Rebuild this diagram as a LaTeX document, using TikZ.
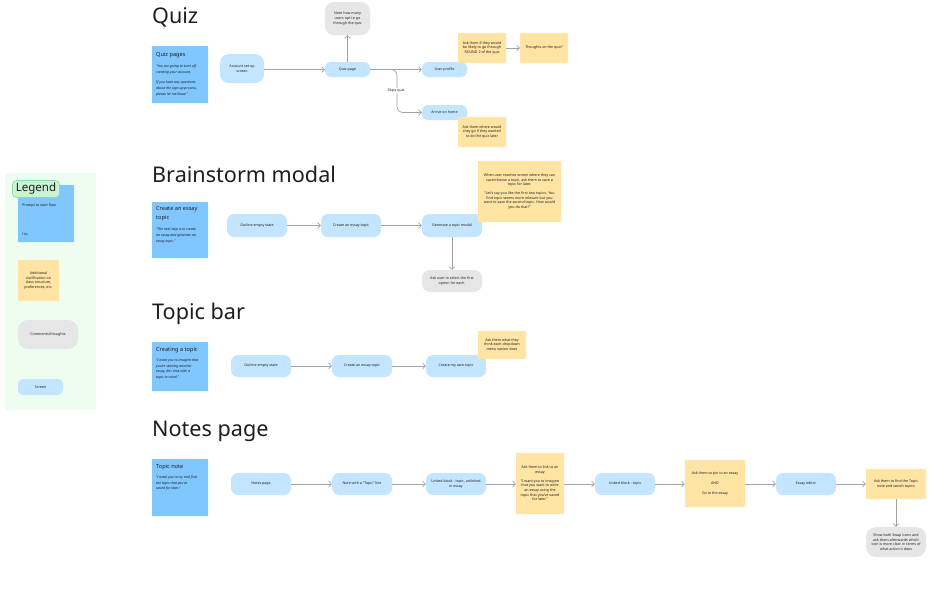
\documentclass[tikz,border=0pt]{standalone}
\usepackage{fontspec}
\setmainfont{Noto Sans}
\usetikzlibrary{arrows.meta}
\definecolor{blu}{HTML}{80C6FF}
\definecolor{scr}{HTML}{C4E5FF}
\definecolor{yel}{HTML}{FFE4A3}
\definecolor{gry}{HTML}{E6E6E6}
\definecolor{arr}{HTML}{A3A3A3}
\definecolor{lgbg}{HTML}{EEFDF0}
\definecolor{tagfill}{HTML}{CCF2D4}
\definecolor{tagdraw}{HTML}{8FD9A3}
\definecolor{ink}{HTML}{1E1E1E}
\tikzset{
  tiny/.style={font=\fontsize{3.6}{4.7}\selectfont, text=ink},
  screenbox/.style={tiny, fill=scr, rounded corners=7pt, align=center, inner sep=1pt},
  graybox/.style={tiny, fill=gry, rounded corners=8pt, align=center, inner sep=1pt},
  notebox/.style={tiny, fill=yel, rounded corners=0.8pt, align=center, inner sep=1pt},
  promptbox/.style={fill=blu, rounded corners=0.5pt, inner sep=0pt},
  phead/.style={text=ink, align=left, inner sep=0pt, anchor=north west, font=\fontsize{5.6}{8.6}\selectfont},
  pbody/.style={text=ink, align=left, inner sep=0pt, anchor=north west, font=\fontsize{3.5}{5.7}\selectfont\itshape},
  ttl/.style={font=\fontsize{21.6}{26}\selectfont, text=ink, anchor=base west, inner sep=0pt},
  flow/.style={draw=arr, line width=0.7pt, -{Straight Barb[length=2.8pt,width=6pt]}},
}
\begin{document}
\begin{tikzpicture}[x=1pt,y=-1pt]
\useasboundingbox (0,0) rectangle (936,611);
\fill[white] (0,0) rectangle (936,611);

% ---------------- Legend ----------------
\node[fill=lgbg, rounded corners=3pt, minimum width=91pt, minimum height=237pt, inner sep=0pt] (lgpanel) at (50.5,291.5) {};
\node[promptbox, minimum width=56pt, minimum height=57pt] (lgblue) at (46,213.5) {};
\node[phead, font=\fontsize{3.6}{4.6}\selectfont\bfseries] (lgbluet) at (22,204) {Prompt to start flow};
\node[phead, font=\fontsize{3}{4}\selectfont] (lgbluet2) at (22,233) {Title};
\node[fill=tagfill, draw=tagdraw, line width=0.6pt, rounded corners=4pt, minimum width=47pt, minimum height=17pt, inner sep=0pt, font=\fontsize{11.5}{13}\selectfont, text=ink] (lgtag) at (36,189) {Legend};
\node[notebox, minimum width=41pt, minimum height=41pt] (lgyel) at (38.5,280.5) {Additional\\clarification on\\class structure,\\preferences, etc.};
\node[graybox, minimum width=60pt, minimum height=29pt, rounded corners=10pt] (lggray) at (48,334.5) {Comments/thoughts};
\node[screenbox, minimum width=45pt, minimum height=16pt, rounded corners=5pt] (lgscr) at (40.5,387) {Screen};

% ---------------- Quiz ----------------
\node[ttl] (tquiz) at (152,23) {Quiz};
\node[promptbox, minimum width=56pt, minimum height=57pt] (qprompt) at (180,74.5) {};
\node[phead] (qhead) at (156,52) {Quiz pages};
\node[pbody] (qbody) at (156,64.5) {“You are going to start off\\creating your account.\\[5pt]If you have any questions\\about the sign up process,\\please let me know.”};
\node[screenbox, minimum width=44pt, minimum height=29pt, rounded corners=9pt] (acc) at (242,68.5) {Account set up\\screen};
\node[screenbox, minimum width=45pt, minimum height=15pt, rounded corners=6pt] (qpage) at (347.5,69.5) {Quiz page};
\node[graybox, minimum width=45pt, minimum height=33pt, rounded corners=9pt] (qnote) at (347.5,18.5) {Note how many\\users opt to go\\through the quiz};
\node[screenbox, minimum width=45pt, minimum height=15pt, rounded corners=6pt] (uprof) at (444.5,69.5) {User profile};
\node[screenbox, minimum width=45pt, minimum height=15pt, rounded corners=6pt] (home) at (444.5,112.5) {Arrive on home};
\node[notebox, minimum width=48pt, minimum height=30pt] (qy1) at (482,48) {Ask them if they would\\be likely to go through\\\textbf{ROUND 2} of the quiz};
\node[notebox, minimum width=48pt, minimum height=30pt] (qy2) at (544,48) {Thoughts on the quiz?};
\node[notebox, minimum width=48pt, minimum height=30pt] (qy3) at (482,132) {Ask them where would\\they go if they wanted\\to do the quiz later};

\draw[flow] (acc.east |- qpage.west) -- (qpage.west);
\draw[flow] (qpage.north) -- (qnote.south);
\draw[flow] (qpage.east) -- (uprof.west);
\coordinate (skA) at (391,69.5);
\draw[flow, rounded corners=6pt] (skA) -| (397,100) |- (home.west);
\node[tiny, fill=white, inner sep=0.8pt] (skl) at (396,91) {Skips quiz};
\draw[flow] (qy1.east) -- (qy2.west);

% ---------------- Brainstorm modal ----------------
\node[ttl] (tbrain) at (152,182) {Brainstorm modal};
\node[promptbox, minimum width=56pt, minimum height=56pt] (bprompt) at (180,230) {};
\node[phead] (bhead) at (156,206.5) {Create an essay\\topic};
\node[pbody] (bbody) at (156,228) {“The next step is to create\\an essay and generate an\\essay topic.”};
\node[screenbox, minimum width=60pt, minimum height=23pt] (boutl) at (257,225.5) {Outline empty state};
\node[screenbox, minimum width=60pt, minimum height=23pt] (bcreate) at (351,225.5) {Create an essay topic};
\node[screenbox, minimum width=60pt, minimum height=23pt] (bgen) at (452,225.5) {Generate a topic modal};
\node[notebox, minimum width=83pt, minimum height=61pt] (by) at (519.5,191.5) {When user reaches screen where they can\\save/choose a topic, ask them to save a\\topic for later.\\[4pt]“Let's say you like the first two topics. You\\find topic seems more relevant but you\\want to save the second topic. How would\\you do that?”};
\node[graybox, minimum width=60pt, minimum height=22pt] (bgray) at (452,281) {Ask user to select the first\\option for each.};

\draw[flow] (boutl.east) -- (bcreate.west);
\draw[flow] (bcreate.east) -- (bgen.west);
\draw[flow] (bgen.south) -- (bgray.north);

% ---------------- Topic bar ----------------
\node[ttl] (ttopic) at (152,319) {Topic bar};
\node[promptbox, minimum width=56pt, minimum height=49pt] (tprompt) at (180,366.5) {};
\node[phead] (thead) at (156,347.5) {Creating a topic};
\node[pbody] (tbody) at (156,358.5) {“I want you to imagine that\\you're starting another\\essay, this time with a\\topic in mind.”};
\node[screenbox, minimum width=60pt, minimum height=22pt] (toutl) at (261,366) {Outline empty state};
\node[screenbox, minimum width=60pt, minimum height=22pt] (tcreate) at (362,366) {Create an essay topic};
\node[screenbox, minimum width=60pt, minimum height=22pt] (town) at (456,366) {Create my own topic};
\node[notebox, minimum width=48pt, minimum height=28pt] (ty) at (502,345) {Ask them what they\\think each dropdown\\menu option does};

\draw[flow] (toutl.east) -- (tcreate.west);
\draw[flow] (tcreate.east) -- (town.west);

% ---------------- Notes page ----------------
\node[ttl] (tnotes) at (152,436) {Notes page};
\node[promptbox, minimum width=56pt, minimum height=57pt] (nprompt) at (180,487.5) {};
\node[phead] (nhead) at (156,464.5) {Topic note};
\node[pbody] (nbody) at (156,475.5) {“I want you to try and find\\the topic that you've\\saved for later.”};
\node[screenbox, minimum width=60pt, minimum height=22pt] (npage) at (261,484) {Notes page};
\node[screenbox, minimum width=60pt, minimum height=22pt] (nline) at (362,484) {Note with a “Topic” line};
\node[screenbox, minimum width=60pt, minimum height=22pt] (nlink) at (456,484) {Linked block - topic, unlinked\\in essay};
\node[notebox, minimum width=48pt, minimum height=61pt] (ny1) at (540,483.5) {Ask them to link to an\\essay\\[4pt]“I want you to imagine\\that you want to write\\an essay using the\\topic that you've saved\\for later.”};
\node[screenbox, minimum width=60pt, minimum height=22pt] (nlt) at (625,484) {Linked block - topic};
\node[notebox, minimum width=60pt, minimum height=47pt] (ny2) at (715,483.5) {Ask them to pin to an essay\\[5pt]AND\\[5pt]Go to the essay};
\node[screenbox, minimum width=60pt, minimum height=22pt] (ned) at (806,484) {Essay editor};
\node[notebox, minimum width=60pt, minimum height=30pt] (ny3) at (896,484) {Ask them to find the Topic\\note and switch topics};
\node[graybox, minimum width=60pt, minimum height=30pt, rounded corners=10pt] (ngray) at (896,542) {Show both Swap icons and\\ask them afterwards which\\icon is more clear in terms of\\what action it does};

\draw[flow] (npage.east) -- (nline.west);
\draw[flow] (nline.east) -- (nlink.west);
\draw[flow] (nlink.east) -- (nlink.east -| ny1.west);
\draw[flow] (ny1.east |- nlt.west) -- (nlt.west);
\draw[flow] (nlt.east) -- (nlt.east -| ny2.west);
\draw[flow] (ny2.east |- ned.west) -- (ned.west);
\draw[flow] (ned.east) -- (ny3.west);
\draw[flow] (ny3.south) -- (ngray.north);
\end{tikzpicture}
\end{document}
